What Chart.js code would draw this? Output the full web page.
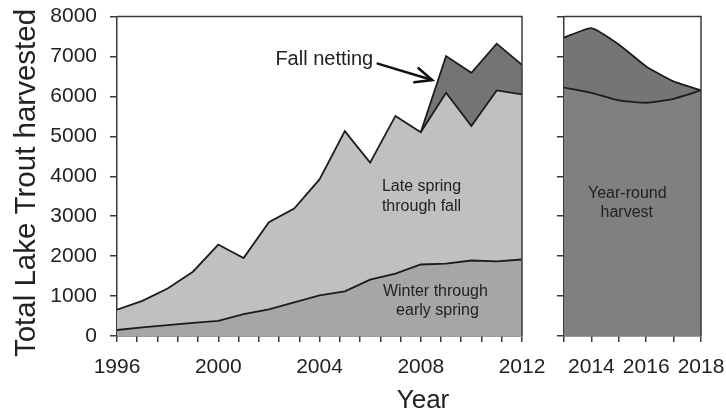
<!DOCTYPE html>
<html>
<head>
<meta charset="utf-8">
<script src="https://cdn.jsdelivr.net/npm/chart.js@4.4.1/dist/chart.umd.min.js"></script>
<style>
html,body{margin:0;padding:0;background:#ffffff;}
#wrap{position:relative;width:726px;height:415px;overflow:hidden;}
#wrap canvas{position:absolute;left:0;top:0;}
</style>
</head>
<body>
<div id="wrap">
<canvas id="left" width="726" height="415"></canvas>
<canvas id="right" width="726" height="415"></canvas>
</div>
<script>
// ---------- data ----------
const years = [1996,1997,1998,1999,2000,2001,2002,2003,2004,2005,2006,2007,2008,2009,2010,2011,2012];
const winterEarlySpring = [150,215,270,330,380,550,665,840,1020,1120,1410,1560,1790,1810,1890,1870,1915];
const lateSpringFall   = [510,665,920,1280,1910,1400,2185,2350,2900,4010,2930,3950,3310,4280,3370,4280,4135];
const fallNettingYears = [2008,2009,2010,2011,2012];
const fallNetting      = [0,920,1330,1170,740];

const recentYears = [2013,2014,2015,2016,2017,2018];
const yearRound   = [6220,6090,5900,5840,5940,6150];
const recentUpper = [1250,1620,1400,910,435,0];

const yTicks = [0,1000,2000,3000,4000,5000,6000,7000,8000];
const leftXLabels = [1996,2000,2004,2008,2012];
const rightXLabels = [2014,2016,2018];

const yTitle = 'Total Lake Trout harvested';
const xTitle = 'Year';

// ---------- derived series ----------
const lateTop = winterEarlySpring.map((v,i)=>v+lateSpringFall[i]);
const netBase = fallNettingYears.map(y=>lateTop[years.indexOf(y)]);
const netTop = netBase.map((v,i)=>v+fallNetting[i]);
const recentTop = yearRound.map((v,i)=>v+recentUpper[i]);
const pts = (xs, ys) => xs.map((x,i)=>({x:x, y:ys[i]}));

// ---------- styles ----------
const FONT = '"Liberation Sans", Arial, Helvetica, sans-serif';
const TXT = '#222222';
const LINE = '#1c1c1c';
Chart.defaults.font.family = FONT;
Chart.defaults.color = TXT;
Chart.defaults.animation = false;

const frame = {
  id:'frame',
  afterDraw(chart){
    const {ctx, chartArea:a} = chart;
    ctx.save();
    ctx.strokeStyle = '#3a3a3a';
    ctx.lineWidth = 1.5;
    ctx.beginPath();
    ctx.moveTo(a.left, a.top);
    ctx.lineTo(a.right, a.top);
    ctx.lineTo(a.right, a.bottom);
    ctx.stroke();
    ctx.restore();
  }
};

function labelsPlugin(items){
  return {
    id:'labels',
    afterDraw(chart){
      const {ctx} = chart;
      const xs = chart.scales.x, ys = chart.scales.y;
      ctx.save();
      ctx.fillStyle = TXT;
      ctx.textAlign = 'center';
      ctx.textBaseline = 'middle';
      items.forEach(it=>{
        ctx.font = it.size + 'px ' + FONT;
        ctx.fillText(it.text, xs.getPixelForValue(it.x), ys.getPixelForValue(it.y));
      });
      ctx.restore();
    }
  };
}

const arrowPlugin = {
  id:'arrow',
  afterDraw(chart){
    const {ctx} = chart;
    const xs = chart.scales.x, ys = chart.scales.y;
    const x0 = xs.getPixelForValue(2006.3), y0 = ys.getPixelForValue(6820);
    const x1 = xs.getPixelForValue(2008.45), y1 = ys.getPixelForValue(6410);
    const ang = Math.atan2(y1-y0, x1-x0);
    const L = 18, spread = 0.42;
    ctx.save();
    ctx.strokeStyle = '#111';
    ctx.lineWidth = 2.6;
    ctx.lineCap = 'round';
    ctx.beginPath();
    ctx.moveTo(x0,y0); ctx.lineTo(x1,y1);
    ctx.moveTo(x1 - L*Math.cos(ang-spread), y1 - L*Math.sin(ang-spread));
    ctx.lineTo(x1,y1);
    ctx.lineTo(x1 - L*Math.cos(ang+spread), y1 - L*Math.sin(ang+spread));
    ctx.stroke();
    ctx.restore();
  }
};

const titles = {
  id:'titles',
  afterDraw(chart){
    const {ctx} = chart;
    ctx.save();
    ctx.fillStyle = TXT;
    ctx.textAlign = 'center';
    ctx.textBaseline = 'alphabetic';
    ctx.font = '26px ' + FONT;
    ctx.fillText(xTitle, 423, 408);
    ctx.translate(35, 183);
    ctx.rotate(-Math.PI/2);
    ctx.font = '29.5px ' + FONT;
    ctx.fillText(yTitle, 0, 0);
    ctx.restore();
  }
};

function areaDs(label, data, fill, bg, bw){
  return {label, data, fill, backgroundColor:bg, borderColor:LINE, borderWidth:bw===undefined?1.8:bw,
          pointRadius:0, pointHoverRadius:0, tension:0};
}

function noPad(s){ s.paddingLeft = 0; s.paddingRight = 0; s.paddingTop = 0; s.paddingBottom = 0; }

function yScale(showLabels){
  return {
    type:'linear', min:0, max:8000,
    afterBuildTicks(s){ s.ticks = yTicks.map(v=>({value:v})); },
    ticks:{ font:{size:21}, color:TXT, padding:13, callback:(v)=> showLabels ? String(v) : '' },
    grid:{ drawOnChartArea:false, drawTicks:true, tickLength:7, color:'#3a3a3a', lineWidth:1.5 },
    border:{ display:true, color:'#3a3a3a', width:1.5 },
    afterFit(s){ s.width = showLabels ? 117 : 564; noPad(s); }
  };
}

// ---------- left panel ----------
new Chart(document.getElementById('left'), {
  type:'line',
  data:{ datasets:[
    areaDs('Winter through early spring', pts(years, winterEarlySpring), 'origin', '#a6a6a6'),
    areaDs('Late spring through fall', pts(years, lateTop), '-1', '#c0c0c0'),
    Object.assign(areaDs('base', pts(fallNettingYears, netBase), false, 'rgba(0,0,0,0)', 0), {borderColor:'rgba(0,0,0,0)'}),
    areaDs('Fall netting', pts(fallNettingYears, netTop), '-1', '#747474')
  ]},
  options:{
    responsive:false, animation:false,
    layout:{ padding:{ top:16.5, right:204, left:0, bottom:0 } },
    plugins:{ legend:{display:false}, tooltip:{enabled:false} },
    scales:{
      x:{
        type:'linear', min:1996, max:2012,
        afterBuildTicks(s){ const t=[]; for(let i=0;i<=20;i++) t.push({value:1996+i*0.8}); s.ticks=t; },
        ticks:{ font:{size:21}, color:TXT, padding:13, maxRotation:0, autoSkip:false,
          callback:(v)=>{ const r = leftXLabels.find(l=>Math.abs(l-v)<1e-6); return r===undefined ? '' : String(r); } },
        grid:{ drawOnChartArea:false, drawTicks:true, tickLength:6, color:'#3a3a3a', lineWidth:1.5 },
        border:{ display:true, color:'#3a3a3a', width:1.5 },
        afterFit(s){ s.height = 79; noPad(s); }
      },
      y: yScale(true)
    }
  },
  plugins:[frame, labelsPlugin([
    {text:'Fall netting', x:2004.19, y:6925, size:20},
    {text:'Late spring', x:2008.03, y:3750, size:16},
    {text:'through fall', x:2008.03, y:3250, size:16},
    {text:'Winter through', x:2008.58, y:1100, size:16},
    {text:'early spring', x:2008.66, y:625, size:16}
  ]), arrowPlugin, titles]
});

// ---------- right panel ----------
new Chart(document.getElementById('right'), {
  type:'line',
  data:{ datasets:[
    Object.assign(areaDs('Year-round harvest', pts(recentYears, yearRound), 'origin', '#808080'), {tension:0.15}),
    Object.assign(areaDs('Upper', pts(recentYears, recentTop), '-1', '#757575'), {tension:0.15})
  ]},
  options:{
    responsive:false, animation:false,
    layout:{ padding:{ top:16.5, right:25, left:0, bottom:0 } },
    plugins:{ legend:{display:false}, tooltip:{enabled:false} },
    scales:{
      x:{
        type:'linear', min:2013, max:2018,
        afterBuildTicks(s){ s.ticks = recentYears.map(v=>({value:v})); },
        ticks:{ font:{size:21}, color:TXT, padding:13, maxRotation:0, autoSkip:false,
          callback:(v)=> rightXLabels.includes(v) ? String(v) : '' },
        grid:{ drawOnChartArea:false, drawTicks:true, tickLength:6, color:'#3a3a3a', lineWidth:1.5 },
        border:{ display:true, color:'#3a3a3a', width:1.5 },
        afterFit(s){ s.height = 79; noPad(s); }
      },
      y: yScale(false)
    }
  },
  plugins:[frame, labelsPlugin([
    {text:'Year-round', x:2015.31, y:3560, size:16},
    {text:'harvest', x:2015.29, y:3100, size:16}
  ])]
});
</script>
</body>
</html>
